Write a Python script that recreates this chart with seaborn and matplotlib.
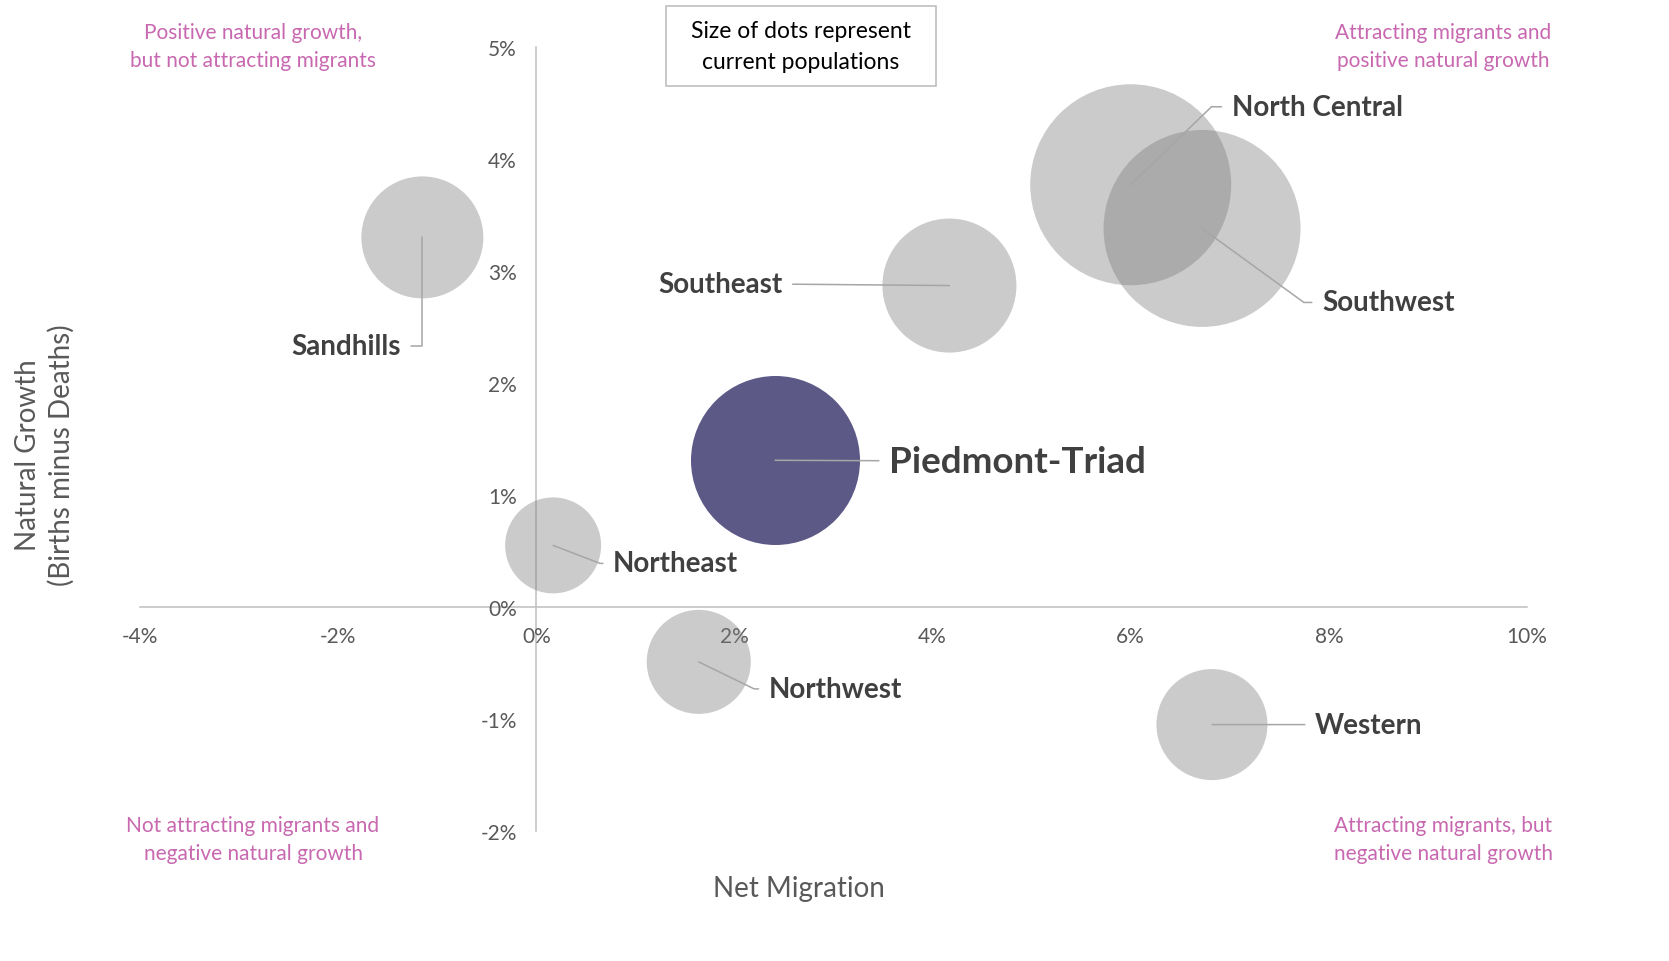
import numpy as np
import pandas as pd
import matplotlib
matplotlib.use("Agg")
import matplotlib.pyplot as plt
import seaborn as sns
from matplotlib.ticker import FuncFormatter
from matplotlib.patches import Rectangle

# ---------------- data ----------------
regions = ["Sandhills", "Southeast", "North Central", "Southwest",
           "Piedmont-Triad", "Northeast", "Northwest", "Western"]
net_migration = [-1.15, 4.17, 6.00, 6.72, 2.41, 0.17, 1.64, 6.82]      # %
natural_growth = [3.30, 2.87, 3.77, 3.38, 1.31, 0.55, -0.49, -1.05]    # %
population = [884, 1067, 2400, 2305, 1697, 547, 643, 732]              # thousands
focus_region = "Piedmont-Triad"

x_ticks = [-4, -2, 0, 2, 4, 6, 8, 10]
y_ticks = [-2, -1, 0, 1, 2, 3, 4, 5]

quadrant_notes = ["Positive natural growth,\nbut not attracting migrants",
                  "Attracting migrants and\npositive natural growth",
                  "Not attracting migrants and\nnegative natural growth",
                  "Attracting migrants, but\nnegative natural growth"]
size_note = "Size of dots represent\ncurrent populations"

df = pd.DataFrame({"region": regions, "migration": net_migration,
                   "growth": natural_growth, "population": population})

# ---------------- style ----------------
sns.set_style("white")
plt.rcParams["font.family"] = ["Lato", "DejaVu Sans"]

W, H = 1669, 962
fig = plt.figure(figsize=(W / 100, H / 100), dpi=100)
ax = fig.add_axes([140 / W, 1 - 832 / H, 1387 / W, 784 / H])

GREY = (125 / 255, 125 / 255, 125 / 255)
FOCUS = "#5D5987"
SMAX = (1.44 * 100.5) ** 2
PMAX = 2400

others = df[df.region != focus_region]
focus = df[df.region == focus_region]
common = dict(x="migration", y="growth", size="population",
              sizes=(0, SMAX), size_norm=(0, PMAX), linewidth=0,
              legend=False, ax=ax)
sns.scatterplot(data=others, color=GREY, alpha=0.4, **common)
sns.scatterplot(data=focus, color=FOCUS, alpha=1.0, **common)

ax.set_xlim(x_ticks[0], x_ticks[-1])
ax.set_ylim(y_ticks[0], y_ticks[-1])
ax.set_xticks(x_ticks)
ax.set_yticks(y_ticks)
pct = FuncFormatter(lambda v, _: f"{v:.0f}%")
ax.xaxis.set_major_formatter(pct)
ax.yaxis.set_major_formatter(pct)

for s in ["top", "right"]:
    ax.spines[s].set_visible(False)
ax.spines["left"].set_position(("data", 0))
ax.spines["bottom"].set_position(("data", 0))
for s in ["left", "bottom"]:
    ax.spines[s].set_color("#BFBFBF")
    ax.spines[s].set_linewidth(1.1)
    ax.spines[s].set_zorder(0)
ax.tick_params(axis="both", length=0, labelsize=15, labelcolor="#595959", pad=14)
ax.grid(False)

ax.set_xlabel("Net Migration", fontsize=20, color="#595959")
ax.xaxis.set_label_coords(0.475, -0.056)
ax.set_ylabel("Natural Growth\n(Births minus Deaths)", fontsize=20, color="#595959",
              linespacing=1.33)
ax.yaxis.set_label_coords(-0.047, 0.481)

# ---------------- labels with leader lines ----------------
label_layout = {
    "Sandhills":      ((-22, -109), "right", "angle,angleA=0,angleB=90,rad=0", 20),
    "Southeast":      ((-167, 2), "right", "arc3,rad=0", 20),
    "North Central":  ((101, 78), "left", "angle,angleA=0,angleB=44,rad=0", 20),
    "Southwest":      ((120, -74), "left", "angle,angleA=0,angleB=-36,rad=0", 20),
    "Piedmont-Triad": ((114, -1), "left", "arc3,rad=0", 26.5),
    "Northeast":      ((60, -18), "left", "angle,angleA=0,angleB=-21,rad=0", 20),
    "Northwest":      ((70, -27), "left", "angle,angleA=0,angleB=-26,rad=0", 20),
    "Western":        ((103, 0), "left", "arc3,rad=0", 20),
}
for name, xv, yv in zip(regions, net_migration, natural_growth):
    off, ha, conn, fs = label_layout[name]
    ax.annotate(name, xy=(xv, yv), xytext=off, textcoords="offset pixels",
                ha=ha, va="center", fontsize=fs, fontweight="bold", color="#404040",
                arrowprops=dict(arrowstyle="-", color="#A6A6A6", lw=1.1,
                                shrinkA=5, shrinkB=0, connectionstyle=conn))

# ---------------- quadrant notes ----------------
PINK = "#C868B0"
note_pos = [(253, 47), (1443, 47), (253, 840), (1443, 840)]
for txt, (px, py) in zip(quadrant_notes, note_pos):
    fig.text(px / W, 1 - py / H, txt, ha="center", va="center", color=PINK,
             fontsize=15, linespacing=1.46, multialignment="center")

# size note box
fig.patches.append(Rectangle((666 / W, 1 - 87 / H), 270 / W, 80 / H,
                             transform=fig.transFigure, facecolor="white",
                             edgecolor="#BFBFBF", linewidth=1.2))
fig.text(801 / W, 1 - 47 / H, size_note, ha="center", va="center", color="#000000",
         fontsize=16.5, linespacing=1.55, multialignment="center")

fig.savefig("out.png", dpi=100)
